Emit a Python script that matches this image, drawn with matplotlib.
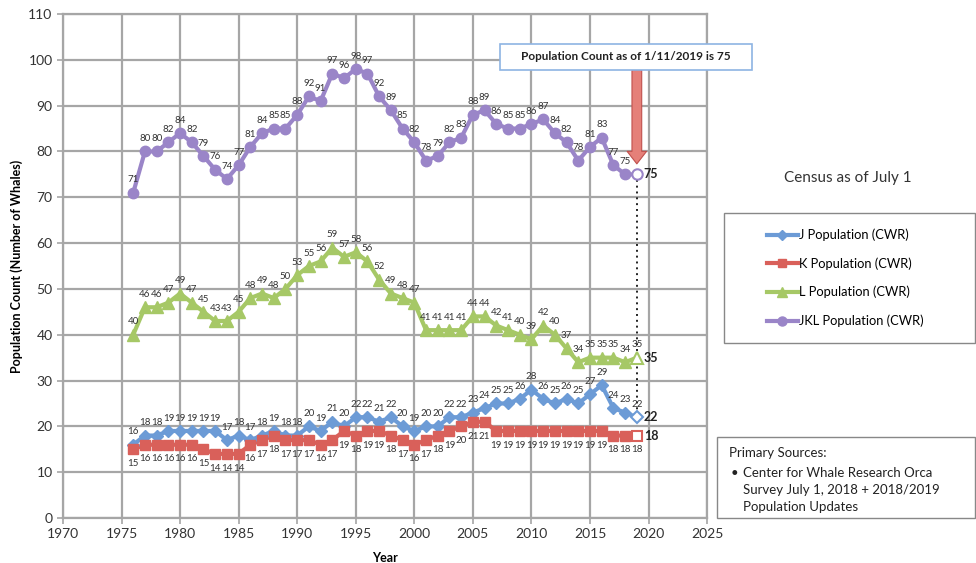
import matplotlib
matplotlib.use('Agg')
import matplotlib.pyplot as plt
from matplotlib.lines import Line2D
from matplotlib.patches import Rectangle

plt.rcParams['font.family'] = ['Lato', 'DejaVu Sans']

years = list(range(1976, 2020))

j_pop = [16, 18, 18, 19, 19, 19, 19, 19, 17, 18, 17, 18, 19, 18, 18, 20, 19, 21, 20, 22,
         22, 21, 22, 20, 19, 20, 20, 22, 22, 23, 24, 25, 25, 26, 28, 26, 25, 26, 25, 27,
         29, 24, 23, 22]
k_pop = [15, 16, 16, 16, 16, 16, 15, 14, 14, 14, 16, 17, 18, 17, 17, 17, 16, 17, 19, 18,
         19, 19, 18, 17, 16, 17, 18, 19, 20, 21, 21, 19, 19, 19, 19, 19, 19, 19, 19, 19,
         19, 18, 18, 18]
l_pop = [40, 46, 46, 47, 49, 47, 45, 43, 43, 45, 48, 49, 48, 50, 53, 55, 56, 59, 57, 58,
         56, 52, 49, 48, 47, 41, 41, 41, 41, 44, 44, 42, 41, 40, 39, 42, 40, 37, 34, 35,
         35, 35, 34, 35]
jkl_pop = [71, 80, 80, 82, 84, 82, 79, 76, 74, 77, 81, 84, 85, 85, 88, 92, 91, 97, 96, 98,
           97, 92, 89, 85, 82, 78, 79, 82, 83, 88, 89, 86, 85, 85, 86, 87, 84, 82, 78, 81,
           83, 77, 75, 75]

series = [
    ("J Population (CWR)", j_pop, '#6C9BD6', 'D', 6.5, 'above'),
    ("K Population (CWR)", k_pop, '#D9605A', 's', 6.5, 'below'),
    ("L Population (CWR)", l_pop, '#A6C866', '^', 8, 'above'),
    ("JKL Population (CWR)", jkl_pop, '#9A85C8', 'o', 7.5, 'above'),
]

fig = plt.figure(figsize=(9.76, 5.63), dpi=100)
ax = fig.add_axes([0.0645, 0.0799, 0.66, 0.8952])

ax.set_xlim(1970, 2025)
ax.set_ylim(0, 110)
ax.set_xticks(range(1970, 2026, 5))
ax.set_yticks(range(0, 111, 10))
ax.grid(True, color='#A6A6A6', lw=1.6, zorder=0)
ax.set_axisbelow(True)
for s in ax.spines.values():
    s.set_color('#A6A6A6')
    s.set_linewidth(1.6)
ax.tick_params(colors='#A6A6A6', labelcolor='#333333', labelsize=10, length=4, width=1.2)

handles = []
for name, vals, col, mk, ms, pos in series:
    ax.plot(years, vals, color=col, lw=3, zorder=3)
    ax.plot(years[:-1], vals[:-1], ls='none', marker=mk, ms=ms, color=col,
            mec=col, zorder=4)
    ax.plot(years[-1:], vals[-1:], ls='none', marker=mk, ms=ms, mfc='white',
            mec=col, mew=1.5, zorder=5)
    handles.append(Line2D([], [], color=col, lw=3, marker=mk, ms=ms - 1))

    n = len(vals) if name != "JKL Population (CWR)" else len(vals) - 1
    for x, v in zip(years[:n], vals[:n]):
        if pos == 'above':
            ax.annotate(str(v), (x, v), xytext=(0, 6), textcoords='offset points',
                        ha='center', va='bottom', fontsize=7, color='#333333', zorder=6)
        else:
            ax.annotate(str(v), (x, v), xytext=(0, -7), textcoords='offset points',
                        ha='center', va='top', fontsize=7, color='#333333', zorder=6)
    ax.annotate(str(vals[-1]), (years[-1], vals[-1]), xytext=(5, 0),
                textcoords='offset points', ha='left', va='center', fontsize=9,
                fontweight='bold', color='#222222', zorder=6)

# dotted drop line at the latest count
ax.plot([2019, 2019], [jkl_pop[-1], j_pop[-1]], ls=(0, (1, 2)), color='#222222',
        lw=1.4, zorder=2)

# red arrow from the note box to the latest total
ax.annotate('', xy=(2019, 77.3), xytext=(2019, 97.8),
            arrowprops=dict(width=7, headwidth=14, headlength=9, facecolor='#E58079',
                            edgecolor='#C0504D', lw=0.8), zorder=7)

ax.set_xlabel("Year", fontsize=9, fontweight='bold', labelpad=8)
ax.set_ylabel("Population Count (Number of Whales)", fontsize=9, fontweight='bold')

# note box
fig.patches.append(Rectangle((0.512, 0.8757), 0.258, 0.0462, transform=fig.transFigure,
                             facecolor='white', edgecolor='#8EB4E3', lw=1.2, zorder=2))
fig.text(0.6414, 0.8988, "Population Count as of 1/11/2019 is 75", ha='center',
         va='center', fontsize=8.5, fontweight='bold', color='#222222', zorder=3)

# legend
fig.text(0.869, 0.684, "Census as of July 1", ha='center', va='center', fontsize=11,
         color='#333333')
fig.patches.append(Rectangle((0.742, 0.391), 0.257, 0.231, transform=fig.transFigure,
                             facecolor='white', edgecolor='#888888', lw=1.0, zorder=2))
leg = fig.legend(handles, [s[0] for s in series], loc='center',
                 bbox_to_anchor=(0.866, 0.5065), frameon=False, fontsize=9.3,
                 labelspacing=1.25, handlelength=2.4, handletextpad=0.1)
leg.set_zorder(3)

# sources box
fig.patches.append(Rectangle((0.735, 0.0799), 0.264, 0.144, transform=fig.transFigure,
                             facecolor='white', edgecolor='#888888', lw=1.0, zorder=2))
fig.text(0.747, 0.195, "Primary Sources:", ha='left', va='center', fontsize=9.5,
         color='#222222', zorder=3)
fig.text(0.749, 0.160, "\u2022", ha='left', va='center', fontsize=9.5, color='#222222',
         zorder=3)
fig.text(0.761, 0.160, "Center for Whale Research Orca", ha='left', va='center',
         fontsize=9.5, color='#222222', zorder=3)
fig.text(0.761, 0.129, "Survey July 1, 2018 + 2018/2019", ha='left', va='center',
         fontsize=9.5, color='#222222', zorder=3)
fig.text(0.761, 0.099, "Population Updates", ha='left', va='center', fontsize=9.5,
         color='#222222', zorder=3)

plt.savefig("out.png", dpi=100)
